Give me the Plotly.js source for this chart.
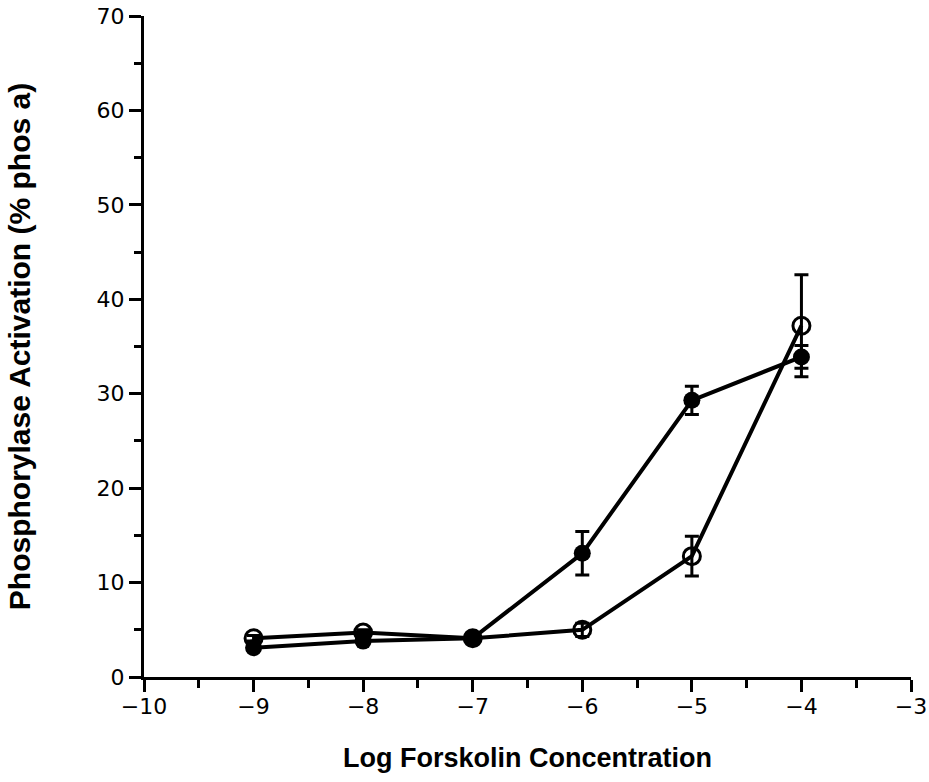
<!DOCTYPE html>
<html>
<head>
<meta charset="utf-8">
<script src="https://cdn.plot.ly/plotly-3.0.1.min.js"></script>
<style>
  html, body { margin: 0; padding: 0; background: #fff; }
  #chart { width: 929px; height: 782px; }
</style>
</head>
<body>
<div id="chart"></div>
<script>
// Log forskolin concentration (M)
const logConc = [-9, -8, -7, -6, -5, -4];

// Phosphorylase activation, % phos a
const filledMean = [3.1, 3.8, 4.1, 13.1, 29.3, 33.9];
const filledErr  = [0.3, 0.3, 0.3, 2.3, 1.5, 1.2];

const openMean = [4.1, 4.7, 4.1, 5.0, 12.8, 37.2];
const openErr  = [0.3, 0.3, 0.3, 0.7, 2.1, 5.4];

const xTicks = [-10, -9, -8, -7, -6, -5, -4, -3];
const yTicks = [0, 10, 20, 30, 40, 50, 60, 70];

const errStyle = { type: 'data', visible: true, color: '#000', thickness: 3, width: 7 };

const traces = [
  {
    x: logConc, y: openMean, type: 'scatter', mode: 'lines+markers',
    line: { color: '#000', width: 4 },
    marker: { symbol: 'circle-open', size: 17, color: '#000', line: { width: 3, color: '#000' } },
    error_y: Object.assign({ array: openErr }, errStyle),
    hoverinfo: 'x+y'
  },
  {
    x: logConc, y: filledMean, type: 'scatter', mode: 'lines+markers',
    line: { color: '#000', width: 4 },
    marker: { symbol: 'circle', size: 17, color: '#000' },
    error_y: Object.assign({ array: filledErr }, errStyle),
    hoverinfo: 'x+y'
  }
];

const tickFont = { family: 'DejaVu Sans, sans-serif', size: 22, color: '#000' };
const xTitleFont = { family: 'Liberation Sans, Arial, sans-serif', size: 27, color: '#000', weight: 'bold' };
const yTitleFont = { family: 'Liberation Sans, Arial, sans-serif', size: 30, color: '#000', weight: 'bold' };

const layout = {
  width: 929, height: 782,
  margin: { l: 144, r: 18, t: 16, b: 105 },
  paper_bgcolor: '#fff', plot_bgcolor: '#fff',
  showlegend: false,
  xaxis: {
    range: [-10, -3],
    tickmode: 'array', tickvals: xTicks,
    ticks: 'outside', ticklen: 12, tickwidth: 3, tickcolor: '#000',
    minor: { dtick: 0.5, ticks: 'outside', ticklen: 8, tickwidth: 3, tickcolor: '#000' },
    showline: true, linewidth: 3, linecolor: '#000',
    showgrid: false, zeroline: false,
    tickfont: tickFont, ticklabelstandoff: -4, ticklabeloverflow: 'allow',
    title: { text: 'Log Forskolin Concentration', font: xTitleFont, standoff: 30 }
  },
  yaxis: {
    range: [0, 70],
    tickmode: 'array', tickvals: yTicks,
    ticks: 'outside', ticklen: 12, tickwidth: 3, tickcolor: '#000',
    minor: { dtick: 5, ticks: 'outside', ticklen: 7, tickwidth: 3, tickcolor: '#000' },
    showline: true, linewidth: 3, linecolor: '#000',
    showgrid: false, zeroline: false,
    tickfont: tickFont, ticklabelstandoff: 0, ticklabeloverflow: 'allow',
    title: { text: 'Phosphorylase Activation (% phos a)', font: yTitleFont, standoff: 58 }
  }
};

Plotly.newPlot('chart', traces, layout, { displayModeBar: false, staticPlot: true });
</script>
</body>
</html>
